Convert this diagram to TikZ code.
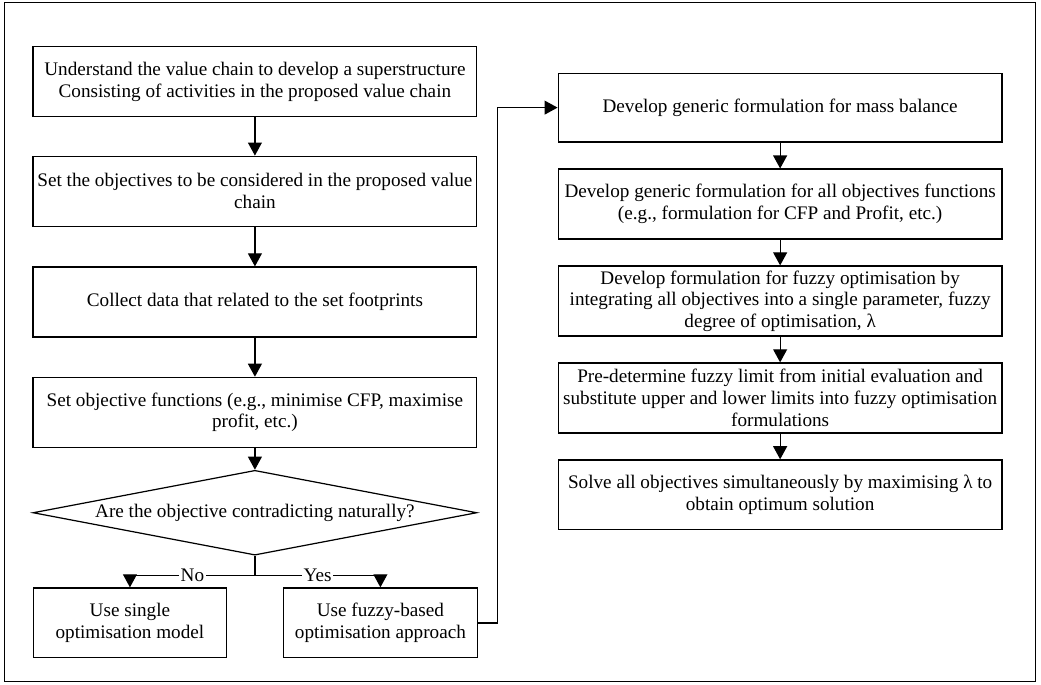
\documentclass[tikz,border=0pt]{standalone}
\usepackage{fontspec}
\setmainfont{Liberation Serif}
\usetikzlibrary{shapes.geometric, arrows.meta, positioning}

\begin{document}
\begin{tikzpicture}[
    font=\fontsize{11}{12.4}\selectfont,
    box/.style={rectangle, draw=black, line width=0.7pt, minimum width=8.95cm, minimum height=1.41cm, align=center, inner sep=2pt},
    smallbox/.style={box, minimum width=3.9cm},
    decision/.style={diamond, draw=black, line width=0.7pt, aspect=5.2, inner sep=0pt, minimum width=8.95cm, minimum height=1.71cm, align=center},
    arrow/.style={-{Triangle[length=7.5pt, width=8pt]}, line width=0.7pt},
    lbl/.style={fill=white, inner sep=1pt}
]
    \useasboundingbox (0,0) rectangle (20.99,-13.81);

    % OUTER FRAME
    \draw [line width=0.6pt] (0.10,-0.06) rectangle (20.87,-13.75);

    % LEFT COLUMN: PROBLEM SETUP
    \node (l1) [box] at (5.14,-1.65) {Understand the value chain to develop a superstructure \\ Consisting of activities in the proposed value chain};
    \node (l2) [box, below=0.77cm of l1] {Set the objectives to be considered in the proposed value \\ chain};
    \node (l3) [box, below=0.80cm of l2] {Collect data that related to the set footprints};
    \node (l4) [box, below=0.79cm of l3] {Set objective functions (e.g., minimise CFP, maximise \\ profit, etc.)};

    % DECISION
    \node (dec) [decision, below=0.44cm of l4] {Are the objective contradicting naturally?};

    % OUTCOMES
    \node (single) [smallbox] at (2.62,-12.56) {Use single \\ optimisation model};
    \node (fuzzy) [smallbox] at (7.67,-12.56) {Use fuzzy-based \\ optimisation approach};

    % RIGHT COLUMN: FUZZY FORMULATION
    \node (r1) [box, minimum height=1.39cm] at (15.73,-2.17) {Develop generic formulation for mass balance};
    \node (r2) [box, below=0.52cm of r1] {Develop generic formulation for all objectives functions \\ (e.g., formulation for CFP and Profit, etc.)};
    \node (r3) [box, below=0.52cm of r2] {Develop formulation for fuzzy optimisation by \\ integrating all objectives into a single parameter, fuzzy \\ degree of optimisation, λ};
    \node (r4) [box, below=0.52cm of r3] {Pre-determine fuzzy limit from initial evaluation and \\ substitute upper and lower limits into fuzzy optimisation \\ formulations};
    \node (r5) [box, below=0.52cm of r4] {Solve all objectives simultaneously by maximising λ to \\ obtain optimum solution};

    % LEFT PATHWAY
    \draw [arrow] (l1) -- (l2);
    \draw [arrow] (l2) -- (l3);
    \draw [arrow] (l3) -- (l4);
    \draw [arrow] (l4) -- (dec);

    % BRANCHES
    \draw [arrow] (dec.south) -- ++(0,-0.40) -| node [lbl, pos=0.25] {No} (single.north);
    \draw [arrow] (dec.south) -- ++(0,-0.40) -| node [lbl, pos=0.25] {Yes} (fuzzy.north);

    % CROSS-OVER INTO RIGHT COLUMN
    \draw [arrow] (fuzzy.east) -- ++(0.40,0) |- (r1.west);

    % RIGHT PATHWAY
    \draw [arrow] (r1) -- (r2);
    \draw [arrow] (r2) -- (r3);
    \draw [arrow] (r3) -- (r4);
    \draw [arrow] (r4) -- (r5);

\end{tikzpicture}
\end{document}
